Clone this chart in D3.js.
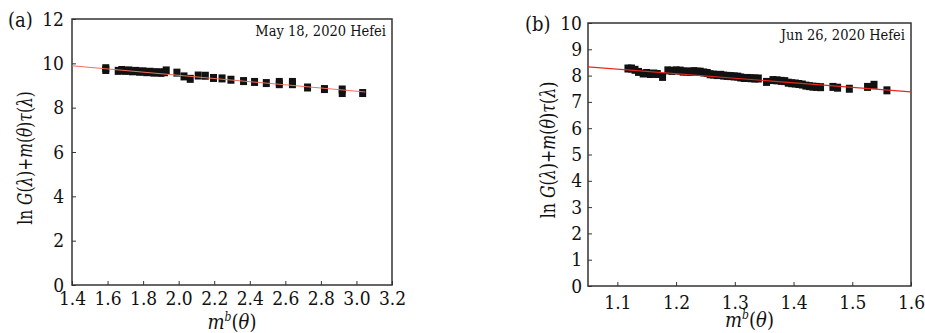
<!DOCTYPE html>
<html>
<head>
<meta charset="utf-8">
<script src="https://cdn.jsdelivr.net/npm/d3@7"></script>
<style>
  body { margin: 0; background: #fff; }
  svg { display: block; font-family: "DejaVu Serif", "Liberation Serif", serif; font-stretch: condensed; }
</style>
</head>
<body>
<svg id="chart" width="925" height="333"></svg>
<script>
// panel (a): May 18, 2020 Hefei
const aX = [1.59, 1.59, 1.66, 1.68, 1.70, 1.72, 1.74, 1.76, 1.78, 1.80, 1.82, 1.84, 1.86, 1.88, 1.90, 1.92, 1.93,
  1.99, 2.03, 2.065, 2.11, 2.15, 2.196, 2.244, 2.294, 2.365, 2.427, 2.493, 2.566, 2.566, 2.64, 2.64, 2.725, 2.82, 2.92, 2.92, 3.035];
const aY = [9.78, 9.70, 9.66, 9.70, 9.66, 9.68, 9.64, 9.66, 9.62, 9.64, 9.60, 9.62, 9.58, 9.60, 9.57, 9.60, 9.68,
  9.58, 9.41, 9.30, 9.45, 9.44, 9.34, 9.32, 9.26, 9.20, 9.16, 9.11, 9.16, 9.06, 9.16, 9.06, 8.91, 8.84, 8.82, 8.66, 8.66];
const aFitX = [1.4, 3.05];
const aFitY = [9.89, 8.71];
const aXTicks = [1.4, 1.6, 1.8, 2.0, 2.2, 2.4, 2.6, 2.8, 3.0, 3.2];
const aYTicks = [0, 2, 4, 6, 8, 10, 12];

// panel (b): Jun 26, 2020 Hefei
const bX = [1.118, 1.124, 1.130, 1.136, 1.144, 1.150, 1.156, 1.162, 1.168, 1.177, 1.186, 1.193, 1.200, 1.207,
  1.212, 1.218, 1.224, 1.230, 1.236, 1.241, 1.247, 1.253, 1.258, 1.264, 1.270, 1.276, 1.281, 1.287, 1.293,
  1.299, 1.305, 1.310, 1.316, 1.322, 1.328, 1.334, 1.340, 1.354, 1.365, 1.372, 1.379, 1.385, 1.391, 1.397,
  1.403, 1.409, 1.415, 1.421, 1.427, 1.433, 1.439, 1.446, 1.467, 1.475, 1.495, 1.526, 1.537, 1.559];
const bY = [8.27, 8.27, 8.22, 8.14, 8.08, 8.10, 8.06, 8.08, 8.06, 7.95, 8.20, 8.18, 8.20, 8.19,
  8.15, 8.16, 8.14, 8.17, 8.15, 8.15, 8.12, 8.10, 8.05, 8.04, 8.02, 8.03, 8.00, 7.99, 7.98,
  7.97, 7.96, 7.93, 7.91, 7.91, 7.90, 7.89, 7.89, 7.76, 7.83, 7.82, 7.80, 7.79, 7.73, 7.71,
  7.70, 7.68, 7.66, 7.62, 7.60, 7.58, 7.57, 7.56, 7.57, 7.54, 7.50, 7.57, 7.65, 7.44];
const bFitX = [1.05, 1.6];
const bFitY = [8.33, 7.38];
const bXTicks = [1.1, 1.2, 1.3, 1.4, 1.5, 1.6];
const bYTicks = [0, 1, 2, 3, 4, 5, 6, 7, 8, 9, 10];

const serif = '"DejaVu Serif", "Liberation Serif", serif';
const svg = d3.select('#chart');

function drawPanel(cfg) {
  const x = d3.scaleLinear().domain(cfg.xDomain).range([cfg.left, cfg.right]);
  const y = d3.scaleLinear().domain(cfg.yDomain).range([cfg.bottom, cfg.top]);
  const g = svg.append('g');

  // x axis: inward ticks, labels below
  const xAxis = d3.axisBottom(x).tickValues(cfg.xTicks).tickSizeInner(-4).tickSizeOuter(0)
    .tickPadding(10).tickFormat(d3.format('.1f'));
  g.append('g').attr('transform', `translate(0,${cfg.bottom})`).call(xAxis)
    .attr('font-family', serif).attr('font-size', 19)
    .call(s => s.select('.domain').remove())
    .call(s => s.selectAll('line').attr('stroke', '#333'))
    .call(s => s.selectAll('text').attr('fill', '#111').attr('dy', '0.71em').attr('y', cfg.xLabelY));

  const yAxis = d3.axisLeft(y).tickValues(cfg.yTicks).tickSizeInner(-4).tickSizeOuter(0)
    .tickPadding(cfg.yPad).tickFormat(d3.format('d'));
  g.append('g').attr('transform', `translate(${cfg.left},0)`).call(yAxis)
    .attr('font-family', serif).attr('font-size', 19)
    .call(s => s.select('.domain').remove())
    .call(s => s.selectAll('line').attr('stroke', '#333'))
    .call(s => s.selectAll('text').attr('fill', '#111'));

  // frame
  g.append('rect')
    .attr('x', cfg.left).attr('y', cfg.top)
    .attr('width', cfg.right - cfg.left).attr('height', cfg.bottom - cfg.top)
    .attr('fill', 'none').attr('stroke', '#333').attr('stroke-width', 1.5);

  // markers
  g.append('g').selectAll('rect')
    .data(cfg.xs.map((v, i) => [v, cfg.ys[i]]))
    .join('rect')
    .attr('x', d => x(d[0]) - 3.5).attr('y', d => y(d[1]) - 4)
    .attr('width', 7).attr('height', 8)
    .attr('fill', '#111');

  // fit line
  g.append('path')
    .datum(cfg.fitX.map((v, i) => [v, cfg.fitY[i]]))
    .attr('d', d3.line().x(d => x(d[0])).y(d => y(d[1])))
    .attr('fill', 'none').attr('stroke', cfg.fitColor).attr('stroke-width', 1.1);

  // annotation
  g.append('text').attr('x', cfg.right - 6).attr('y', cfg.top + 17)
    .attr('text-anchor', 'end').attr('font-size', 14.5).attr('fill', '#111').text(cfg.note);

  // panel letter
  g.append('text').attr('x', cfg.letterX).attr('y', cfg.top + 8)
    .attr('font-size', 20).attr('fill', '#111').text(cfg.letter);

  // x title m^b(θ)
  const xt = g.append('text').attr('x', (cfg.left + cfg.right) / 2).attr('y', cfg.xTitleY)
    .attr('text-anchor', 'middle').attr('font-size', 20).attr('fill', '#111');
  xt.append('tspan').attr('font-style', 'italic').text('m');
  xt.append('tspan').attr('font-style', 'italic').attr('font-size', 12).attr('dy', -8).text('b');
  xt.append('tspan').attr('dy', 8).text('(');
  xt.append('tspan').attr('font-style', 'italic').text('θ');
  xt.append('tspan').text(')');

  // y title, squeezed along its length to match the narrower original face
  const yt = g.append('text')
    .attr('transform', `translate(${cfg.yTitleX},${cfg.yTitleY}) rotate(-90) scale(${cfg.yTitleSqueeze},1)`)
    .attr('text-anchor', 'middle').attr('font-size', 20).attr('fill', '#111');
  const parts = [['ln ', false], ['G', true], ['(', false], ['λ', true], [')+', false], ['m', true],
    ['(', false], ['θ', true], [')', false], ['τ', true], ['(', false], ['λ', true], [')', false]];
  parts.forEach(p => yt.append('tspan').attr('font-style', p[1] ? 'italic' : null).text(p[0]));
}

drawPanel({
  xs: aX, ys: aY, fitX: aFitX, fitY: aFitY, xTicks: aXTicks, yTicks: aYTicks,
  xDomain: [1.4, 3.2], yDomain: [0, 12],
  left: 72, right: 392, top: 19, bottom: 285,
  xLabelY: 7, yPad: 8, xTitleY: 329, yTitleX: 32, yTitleY: 158, yTitleSqueeze: 0.86,
  fitColor: '#f07060', note: 'May 18, 2020 Hefei', letter: '(a)', letterX: 8
});

drawPanel({
  xs: bX, ys: bY, fitX: bFitX, fitY: bFitY, xTicks: bXTicks, yTicks: bYTicks,
  xDomain: [1.05, 1.6], yDomain: [0, 10],
  left: 588, right: 911, top: 23, bottom: 286,
  xLabelY: 10, yPad: 6, xTitleY: 327, yTitleX: 555, yTitleY: 150, yTitleSqueeze: 0.88,
  fitColor: '#e8281e', note: 'Jun 26, 2020 Hefei', letter: '(b)', letterX: 525
});
</script>
</body>
</html>
